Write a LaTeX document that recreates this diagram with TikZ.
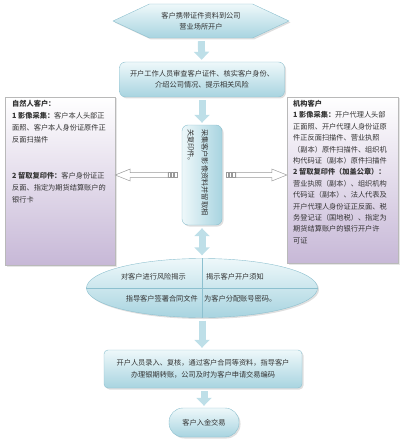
\documentclass[tikz,border=0pt]{standalone}
\usepackage{fontspec}
\setmainfont{Noto Sans CJK SC}
\usetikzlibrary{calc,arrows.meta,shapes.geometric,shapes.symbols,shadows}
\definecolor{boxtop}{HTML}{EEF8FA}
\definecolor{boxbot}{HTML}{A8D4E0}
\definecolor{boxline}{HTML}{8DC0CF}
\definecolor{sidebot}{HTML}{C7B8D7}
\definecolor{arrowblue}{HTML}{BEDFE8}
\definecolor{txt}{HTML}{333333}
\tikzset{
	txtnode/.style={text=txt,font=\fontsize{7.2}{11.4}\selectfont,inner sep=0pt},
	bluebox/.style={draw=boxline,top color=boxtop,bottom color=boxbot,drop shadow={opacity=0.25,shadow xshift=1.5pt,shadow yshift=-1.5pt}},
	sidebox/.style={draw=gray!55,top color=white,bottom color=sidebot,drop shadow={opacity=0.2,shadow xshift=1.5pt,shadow yshift=-1.5pt}},
	flowarrow/.style={line width=7pt,draw=arrowblue,shorten <=3pt,shorten >=2pt,-{Triangle[length=8pt,width=15pt]}},
	hollow/.style={draw=gray!80,fill=white,line width=0.5pt}
}
\begin{document}
\begin{tikzpicture}[x=1pt,y=-1pt]
	\useasboundingbox (0,0) rectangle (400,441);
	\node[bluebox,shape=signal,signal to=west and east,signal pointer angle=50,minimum width=176pt,minimum height=34pt,align=center,txtnode] (start) at (201,21) {客户携带证件资料到公司\\营业场所开户};
	\node[bluebox,rounded corners=6pt,minimum width=165pt,minimum height=35pt,align=center,txtnode] (check) at (202,79.5) {开户工作人员审查客户证件、核实客户身份、\\介绍公司情况、提示相关风险};
	\node[sidebox,minimum width=110pt,minimum height=168pt] (lbox) at (60,181) {};
	\node[sidebox,minimum width=111pt,minimum height=166pt] (rbox) at (342.5,180) {};
	\node[txtnode,anchor=north west,align=left,font=\fontsize{7.2}{12}\selectfont] (ltext) at (12,100) {{\bfseries 自然人客户：}\\
		{\bfseries 1 影像采集：}客户本人头部正\\
		面照、客户本人身份证原件正\\
		反面扫描件\\
		\mbox{}\\
		\mbox{}\\
		{\bfseries 2 留取复印件：}客户身份证正\\
		反面、指定为期货结算账户的\\
		银行卡};
	\node[txtnode,anchor=north west,align=left] (rtext) at (293,100) {{\bfseries 机构客户}\\
		{\bfseries 1 影像采集：}开户代理人头部\\
		正面照、开户代理人身份证原\\
		件正反面扫描件、营业执照\\
		（副本）原件扫描件、组织机\\
		构代码证（副本）原件扫描件\\
		{\bfseries 2 留取复印件（加盖公章）：}\\
		营业执照（副本）、组织机构\\
		代码证（副本）、法人代表及\\
		开户代理人身份证正反面、税\\
		务登记证（国地税）、指定为\\
		期货结算账户的银行开户许\\
		可证};
	\node[bluebox,rounded corners=6pt,left color=boxtop,right color=boxbot,minimum width=40pt,minimum height=100pt] (mbox) at (202,175) {};
	\node[txtnode,rotate=-90,text width=92pt,align=left,font=\fontsize{7.2}{14}\selectfont] (mtext) at ([xshift=-4pt]mbox.center) {采集客户影像资料并留取相\\关复印件。};
	\node[bluebox,ellipse,minimum width=231pt,minimum height=59pt] (risk) at (202,288) {};
	\draw[boxline] (risk.west) -- (risk.east);
	\draw[boxline] (risk.north) -- (risk.south);
	\node[txtnode,anchor=east] (r1) at (186,277) {对客户进行风险揭示};
	\node[txtnode,anchor=west] (r2) at (206,277) {揭示客户开户须知};
	\node[txtnode,anchor=east] (r3) at (198,299) {指导客户签署合同文件};
	\node[txtnode,anchor=west] (r4) at (204,299) {为客户分配账号密码。};
	\node[bluebox,rounded corners=4pt,minimum width=198pt,minimum height=38pt,align=center,txtnode] (act) at (203,369) {开户人员录入、复核，通过客户合同等资料，指导客户\\办理银期转账，公司及时为客户申请交易编码};
	\node[bluebox,rounded corners=14pt,minimum width=70pt,minimum height=29pt,txtnode] (done) at (204,422.5) {客户入金交易};
	\draw[flowarrow] (start) -- (check);
	\draw[flowarrow] (check) -- (mbox);
	\draw[flowarrow,shorten >=3pt,{Triangle[length=8pt,width=15pt]}-{Triangle[length=8pt,width=15pt]}] (mbox) -- (risk);
	\draw[flowarrow] (risk.south) -- (risk.south |- act.north);
	\draw[flowarrow] (act.south -| done.north) -- (done.north);
	\draw[hollow] (lbox.east |- mbox.west) -- ++(15,-6) -- ++(0,3.5) -- ++(38,0) -- ++(0,5) -- ++(-38,0) -- ++(0,3.5) -- cycle;
	\draw[hollow] (rbox.west |- mbox.east) -- ++(-15,-6) -- ++(0,3.5) -- ++(-36,0) -- ++(0,5) -- ++(36,0) -- ++(0,3.5) -- cycle;
	\foreach \i in {0,1,2}{
		\draw[hollow] ($(mbox.west)+(-14+\i*3.4,-2.5)$) rectangle ++(2.4,5);
		\draw[hollow] ($(mbox.east)+(3.6+\i*3.4,-2.5)$) rectangle ++(2.4,5);
	}
\end{tikzpicture}
\end{document}
